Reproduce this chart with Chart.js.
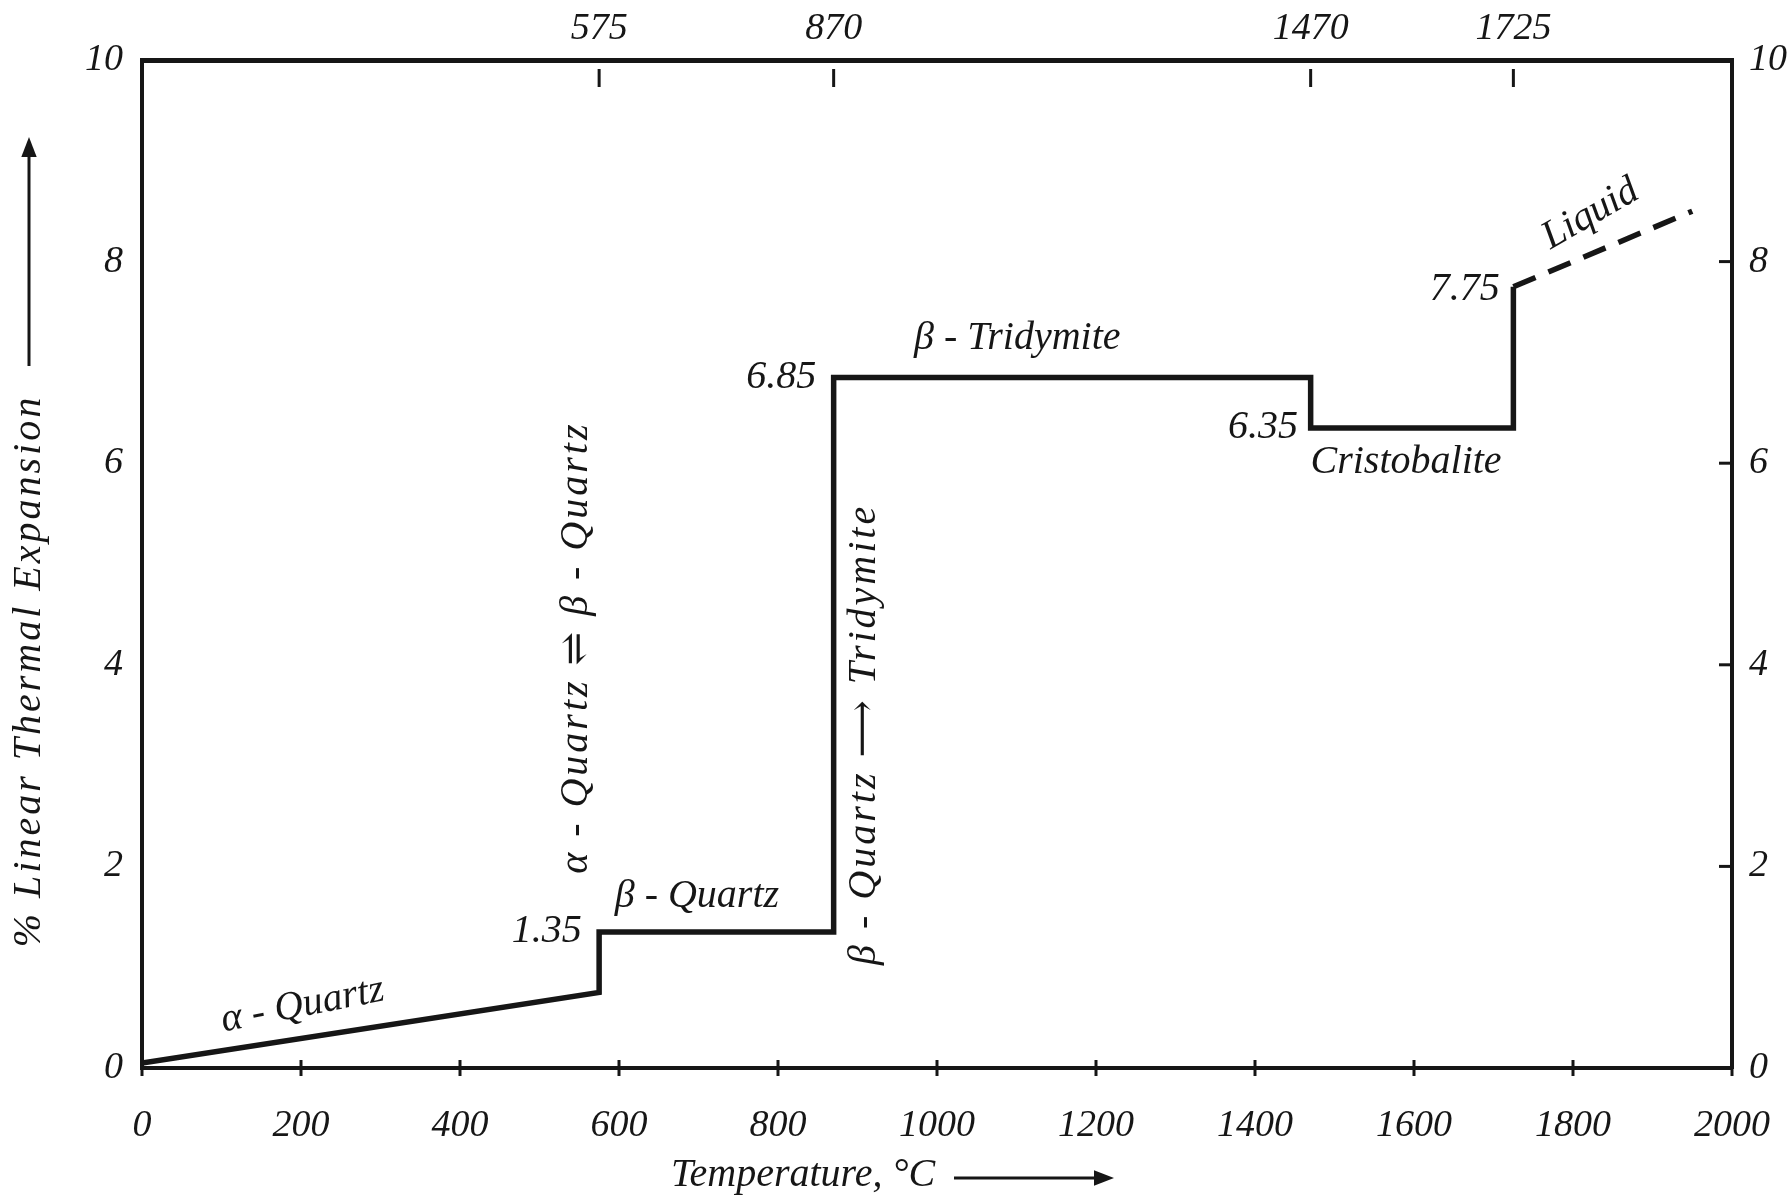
<!DOCTYPE html>
<html>
<head>
<meta charset="utf-8">
<title>Linear thermal expansion of silica</title>
<script src="https://cdn.jsdelivr.net/npm/chart.js@4.4.1/dist/chart.umd.min.js"></script>
<style>
  html, body { margin: 0; padding: 0; background: #fff; }
</style>
</head>
<body>
<canvas id="expansionChart" width="1792" height="1201"></canvas>
<script>
// solid curve: temperature (°C) vs % linear expansion, steps at the inversions
const tempC = [0, 575, 575, 870, 870, 1470, 1470, 1725, 1725];
const expansion = [0.05, 0.75, 1.35, 1.35, 6.85, 6.85, 6.35, 6.35, 7.75];
// dashed liquid branch
const liquidTemp = [1725, 1950];
const liquidExp = [7.75, 8.5];
// tick labels
const tempTicks = [0, 200, 400, 600, 800, 1000, 1200, 1400, 1600, 1800, 2000];
const transitionTemps = [575, 870, 1470, 1725];
const expTicks = [0, 2, 4, 6, 8, 10];

const INK = "#161616";
const SERIF = "'Liberation Serif', 'DejaVu Serif', 'DejaVu Sans', serif";
const tickFont = { family: SERIF, style: "italic", size: 38 };
const plain = v => String(v);

function toPoints(xs, ys) {
  return xs.map((x, i) => ({ x: x, y: ys[i] }));
}

function putText(ctx, str, x, y, opts) {
  opts = opts || {};
  ctx.save();
  ctx.translate(x, y);
  ctx.rotate((opts.rot || 0) * Math.PI / 180);
  ctx.font = "italic " + (opts.size || 40) + "px " + SERIF;
  ctx.textAlign = opts.align || "center";
  ctx.textBaseline = "middle";
  ctx.letterSpacing = (opts.spacing || 0) + "px";
  ctx.fillStyle = INK;
  ctx.fillText(str, 0, 0);
  ctx.restore();
}

function arrow(ctx, x1, y1, x2, y2, head) {
  const a = Math.atan2(y2 - y1, x2 - x1);
  const bx = x2 - head * Math.cos(a), by = y2 - head * Math.sin(a);
  const w = head / 2.6;
  ctx.save();
  ctx.strokeStyle = INK;
  ctx.fillStyle = INK;
  ctx.lineWidth = 3;
  ctx.beginPath();
  ctx.moveTo(x1, y1);
  ctx.lineTo(bx, by);
  ctx.stroke();
  ctx.beginPath();
  ctx.moveTo(x2, y2);
  ctx.lineTo(bx + w * Math.sin(a), by - w * Math.cos(a));
  ctx.lineTo(bx - w * Math.sin(a), by + w * Math.cos(a));
  ctx.closePath();
  ctx.fill();
  ctx.restore();
}

// phase labels, inward ticks and axis titles
const silicaLabels = {
  id: "silicaLabels",
  afterDraw(chart) {
    const ctx = chart.ctx;
    const x = chart.scales.x, y = chart.scales.y, area = chart.chartArea;
    const px = v => x.getPixelForValue(v);
    const py = v => y.getPixelForValue(v);

    ctx.save();
    ctx.strokeStyle = INK;
    ctx.lineWidth = 3;
    // bottom ticks cross the axis
    tempTicks.forEach(t => {
      ctx.beginPath();
      ctx.moveTo(px(t), area.bottom - 8);
      ctx.lineTo(px(t), area.bottom + 8);
      ctx.stroke();
    });
    // top ticks hang below the axis
    transitionTemps.forEach(t => {
      ctx.beginPath();
      ctx.moveTo(px(t), area.top + 9);
      ctx.lineTo(px(t), area.top + 27);
      ctx.stroke();
    });
    // right ticks point inward
    expTicks.forEach(v => {
      ctx.beginPath();
      ctx.moveTo(area.right - 13, py(v));
      ctx.lineTo(area.right, py(v));
      ctx.stroke();
    });
    ctx.restore();

    putText(ctx, "α - Quartz", px(202), py(0.62), { rot: -11 });
    putText(ctx, "1.35", px(553), py(1.35), { align: "right" });
    putText(ctx, "β - Quartz", px(698), py(1.7));
    putText(ctx, "6.85", px(848), py(6.85), { align: "right" });
    putText(ctx, "β - Tridymite", px(1101), py(7.24));
    putText(ctx, "6.35", px(1454), py(6.35), { align: "right" });
    putText(ctx, "Cristobalite", px(1590), py(6.01));
    putText(ctx, "7.75", px(1708), py(7.72), { align: "right" });
    putText(ctx, "Liquid", px(1822), py(8.47), { rot: -30 });
    putText(ctx, "α - Quartz ⇌ β - Quartz", px(547), py(4.17), { rot: -90, spacing: 3 });
    putText(ctx, "β - Quartz ⟶ Tridymite", px(909), py(3.31), { rot: -90, spacing: 3 });

    // axis titles with their arrows
    putText(ctx, "% Linear Thermal Expansion", 29, 671, { rot: -90, size: 40, spacing: 3 });
    arrow(ctx, 29, 366, 29, 137, 20);
    putText(ctx, "Temperature, °C", 803, 1175, { size: 40 });
    arrow(ctx, 954, 1178, 1114, 1178, 20);
  }
};

new Chart(document.getElementById("expansionChart"), {
  type: "scatter",
  data: {
    datasets: [
      {
        label: "Silica",
        data: toPoints(tempC, expansion),
        showLine: true,
        borderColor: INK,
        borderWidth: 5.5,
        pointRadius: 0,
        tension: 0
      },
      {
        label: "Liquid",
        data: toPoints(liquidTemp, liquidExp),
        showLine: true,
        borderColor: INK,
        borderWidth: 5.5,
        borderDash: [24, 14],
        pointRadius: 0,
        tension: 0
      }
    ]
  },
  options: {
    responsive: false,
    animation: false,
    layout: { padding: 0 },
    plugins: { legend: { display: false }, tooltip: { enabled: false } },
    scales: {
      x: {
        type: "linear", position: "bottom", min: 0, max: 2000,
        afterBuildTicks: s => { s.ticks = tempTicks.map(v => ({ value: v })); },
        afterFit: s => { s.height = 133; s.paddingLeft = 0; s.paddingRight = 0; },
        border: { color: INK, width: 4 },
        grid: { drawOnChartArea: false, drawTicks: false },
        ticks: { color: INK, font: tickFont, padding: 35, maxRotation: 0, callback: plain }
      },
      x2: {
        type: "linear", position: "top", min: 0, max: 2000, display: true,
        afterBuildTicks: s => { s.ticks = transitionTemps.map(v => ({ value: v })); },
        afterFit: s => { s.height = 60; s.paddingLeft = 0; s.paddingRight = 0; },
        border: { color: INK, width: 5 },
        grid: { drawOnChartArea: false, drawTicks: false },
        ticks: { color: INK, font: tickFont, padding: 8, maxRotation: 0, callback: plain }
      },
      y: {
        type: "linear", position: "left", min: 0, max: 10,
        afterBuildTicks: s => { s.ticks = expTicks.map(v => ({ value: v })); },
        afterFit: s => { s.width = 142; s.paddingTop = 0; s.paddingBottom = 0; },
        border: { color: INK, width: 4 },
        grid: { drawOnChartArea: false, drawTicks: false },
        ticks: { color: INK, font: tickFont, padding: 19, callback: plain }
      },
      y2: {
        type: "linear", position: "right", min: 0, max: 10, display: true,
        afterBuildTicks: s => { s.ticks = expTicks.map(v => ({ value: v })); },
        afterFit: s => { s.width = 60; s.paddingTop = 0; s.paddingBottom = 0; },
        border: { color: INK, width: 4 },
        grid: { drawOnChartArea: false, drawTicks: false },
        ticks: { color: INK, font: tickFont, padding: 17, callback: plain }
      }
    }
  },
  plugins: [silicaLabels]
});
</script>
</body>
</html>
